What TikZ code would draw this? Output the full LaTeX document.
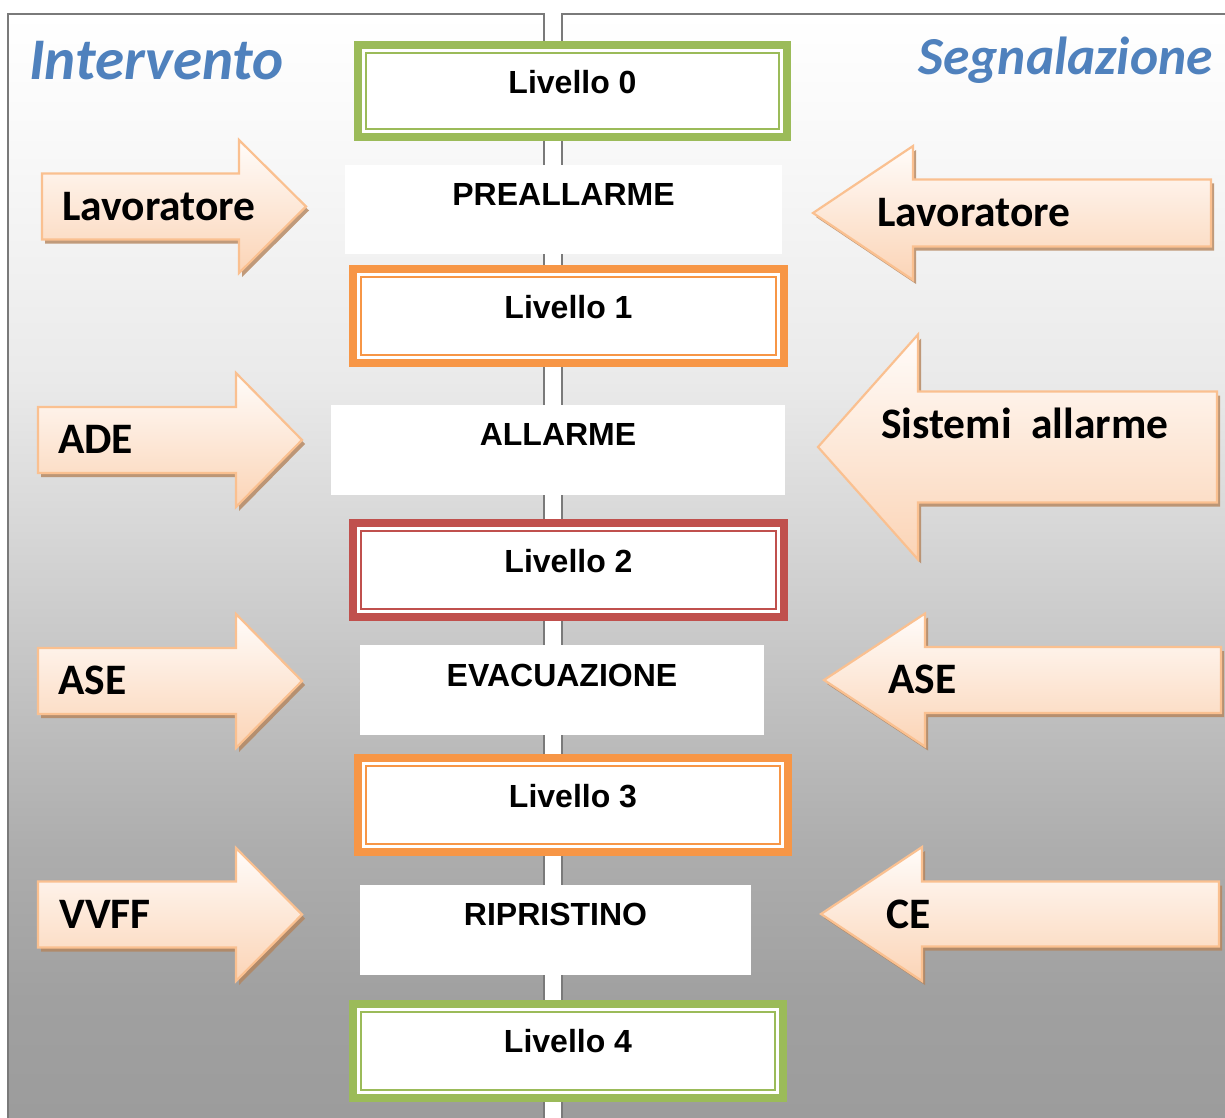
\documentclass[tikz,border=0pt]{standalone}
\usepackage{fontspec}
\setmainfont{Liberation Sans}
\newfontfamily\calibri{Carlito}
\definecolor{bgA}{HTML}{9C9C9C}
\definecolor{bgB}{HTML}{A0A0A0}
\definecolor{bgC}{HTML}{ADADAD}
\definecolor{bgD}{HTML}{CBCBCB}
\definecolor{bgE}{HTML}{EAEAEA}
\definecolor{bgF}{HTML}{F8F8F8}
\definecolor{bgW}{HTML}{FFFFFF}
\definecolor{lvgreen}{HTML}{9BBB59}
\definecolor{lvorange}{HTML}{F79646}
\definecolor{lvred}{HTML}{C0504D}
\definecolor{titleblue}{HTML}{4F81BD}
\definecolor{arrline}{HTML}{FAC090}
\definecolor{arrtop}{HTML}{FFFCFA}
\definecolor{arrbot}{HTML}{FBD4B6}
\definecolor{arrshadow}{HTML}{B4845C}
\definecolor{panelline}{HTML}{7A7A7A}
\pgfdeclareverticalshading{bgshade}{100bp}{color(0bp)=(bgA); color(25bp)=(bgA); color(30.34bp)=(bgB); color(37.14bp)=(bgC); color(47.55bp)=(bgD); color(58.42bp)=(bgE); color(68.84bp)=(bgF); color(75bp)=(bgW); color(100bp)=(bgW)}
\newcommand\drawarrow[6]{%
  \fill[arrshade, xshift=3pt, yshift=-4pt] (#1,{#4-#5}) -- (#2,{#4-#5}) -- (#2,{#4-#6}) -- (#3,#4) -- (#2,{#4+#6}) -- (#2,{#4+#5}) -- (#1,{#4+#5}) -- cycle;
  \draw[arrbody] (#1,{#4-#5}) -- (#2,{#4-#5}) -- (#2,{#4-#6}) -- (#3,#4) -- (#2,{#4+#6}) -- (#2,{#4+#5}) -- (#1,{#4+#5}) -- cycle;}
\tikzset{
  levbox/.style={draw=#1, line width=8pt, fill=white, inner sep=0pt,
    path picture={\draw[#1, line width=2.6pt] ([shift={(8pt,-8pt)}]path picture bounding box.north west) rectangle ([shift={(-8pt,8pt)}]path picture bounding box.south east);}},
  whitebox/.style={fill=white, inner sep=0pt},
  boxtext/.style={font=\bfseries\fontsize{32}{36}\selectfont, inner sep=0pt, anchor=base},
  arrtext/.style={font=\calibri\bfseries\fontsize{43.5}{50}\selectfont, inner sep=0pt, anchor=base west},
  titletext/.style={font=\calibri\bfseries\itshape\fontsize{59}{64}\selectfont, text=titleblue, inner sep=0pt},
  arrbody/.style={draw=arrline, line width=2.2pt, line join=miter, top color=arrtop, bottom color=arrbot},
  arrshade/.style={fill=arrshadow, opacity=0.8},
  panel/.style={draw=panelline, line width=2.6pt}
}
\begin{document}
\begin{tikzpicture}[x=1pt, y=-1pt]
\useasboundingbox (0,0) rectangle (1225,1118);
\clip (0,0) rectangle (1225,1118);
% background panels
\fill[white] (0,0) rectangle (1225,1118);
\shade[shading=bgshade] (8,14) rectangle (1230,1118);
\fill[white] (544,14) rectangle (562,1130);
\draw[panel] (8,1130) -- (8,14) -- (544,14) -- (544,1130);
\draw[panel] (562,1130) -- (562,14) -- (1240,14);
% titles
\node[titletext, anchor=base west] (tint) at (29,80) {Intervento};
\node[titletext, anchor=base east, font=\calibri\bfseries\itshape\fontsize{53.5}{60}\selectfont] (tseg) at (1213,75) {Segnalazione};
% level boxes
\node[levbox=lvgreen, minimum width=429pt, minimum height=92pt] (L0) at (572.5,91) {};
\node[levbox=lvorange, minimum width=431pt, minimum height=94pt] (L1) at (568.5,316) {};
\node[levbox=lvred, minimum width=431pt, minimum height=94pt] (L2) at (568.5,570) {};
\node[levbox=lvorange, minimum width=430pt, minimum height=94pt] (L3) at (573,805) {};
\node[levbox=lvgreen, minimum width=430pt, minimum height=94pt] (L4) at (568,1051) {};
\node[boxtext] (L0t) at (572.5,93.5) {Livello 0};
\node[boxtext] (L1t) at (568.5,318) {Livello 1};
\node[boxtext] (L2t) at (568.5,572.5) {Livello 2};
\node[boxtext] (L3t) at (573,807) {Livello 3};
\node[boxtext] (L4t) at (568,1052) {Livello 4};
% white phase boxes
\node[whitebox, minimum width=437pt, minimum height=89pt] (P1) at (563.5,209.5) {};
\node[whitebox, minimum width=454pt, minimum height=90pt] (P2) at (558,450) {};
\node[whitebox, minimum width=404pt, minimum height=90pt] (P3) at (562,690) {};
\node[whitebox, minimum width=391pt, minimum height=90pt] (P4) at (555.5,930) {};
\node[boxtext] (P1t) at (563.5,205) {PREALLARME};
\node[boxtext] (P2t) at (558,445) {ALLARME};
\node[boxtext] (P3t) at (562,686) {EVACUAZIONE};
\node[boxtext] (P4t) at (555.5,925) {RIPRISTINO};
% left arrows
\drawarrow{42}{239}{306}{206.5}{33}{66.5}
\drawarrow{38}{236}{302}{440}{33}{67}
\drawarrow{38}{236}{302}{681}{33}{67}
\drawarrow{38}{236}{302}{914.5}{33}{66.5}
% right arrows
\drawarrow{1211}{913}{813}{213}{33.5}{67}
\drawarrow{1217}{918}{818}{447}{55.5}{112.5}
\drawarrow{1221}{925}{824}{680}{33}{66.5}
\drawarrow{1219}{922}{821}{914}{32.5}{67}
% arrow texts
\node[arrtext] (aL1) at (62,220) {Lavoratore};
\node[arrtext] (aL2) at (58,453.5) {ADE};
\node[arrtext] (aL3) at (58,694.5) {ASE};
\node[arrtext] (aL4) at (59,928) {VVFF};
\node[arrtext] (aR1) at (877,226) {Lavoratore};
\node[arrtext] (aR2) at (881,438) {Sistemi\ \ allarme};
\node[arrtext] (aR3) at (888,693) {ASE};
\node[arrtext] (aR4) at (886,928) {CE};
\end{tikzpicture}
\end{document}
